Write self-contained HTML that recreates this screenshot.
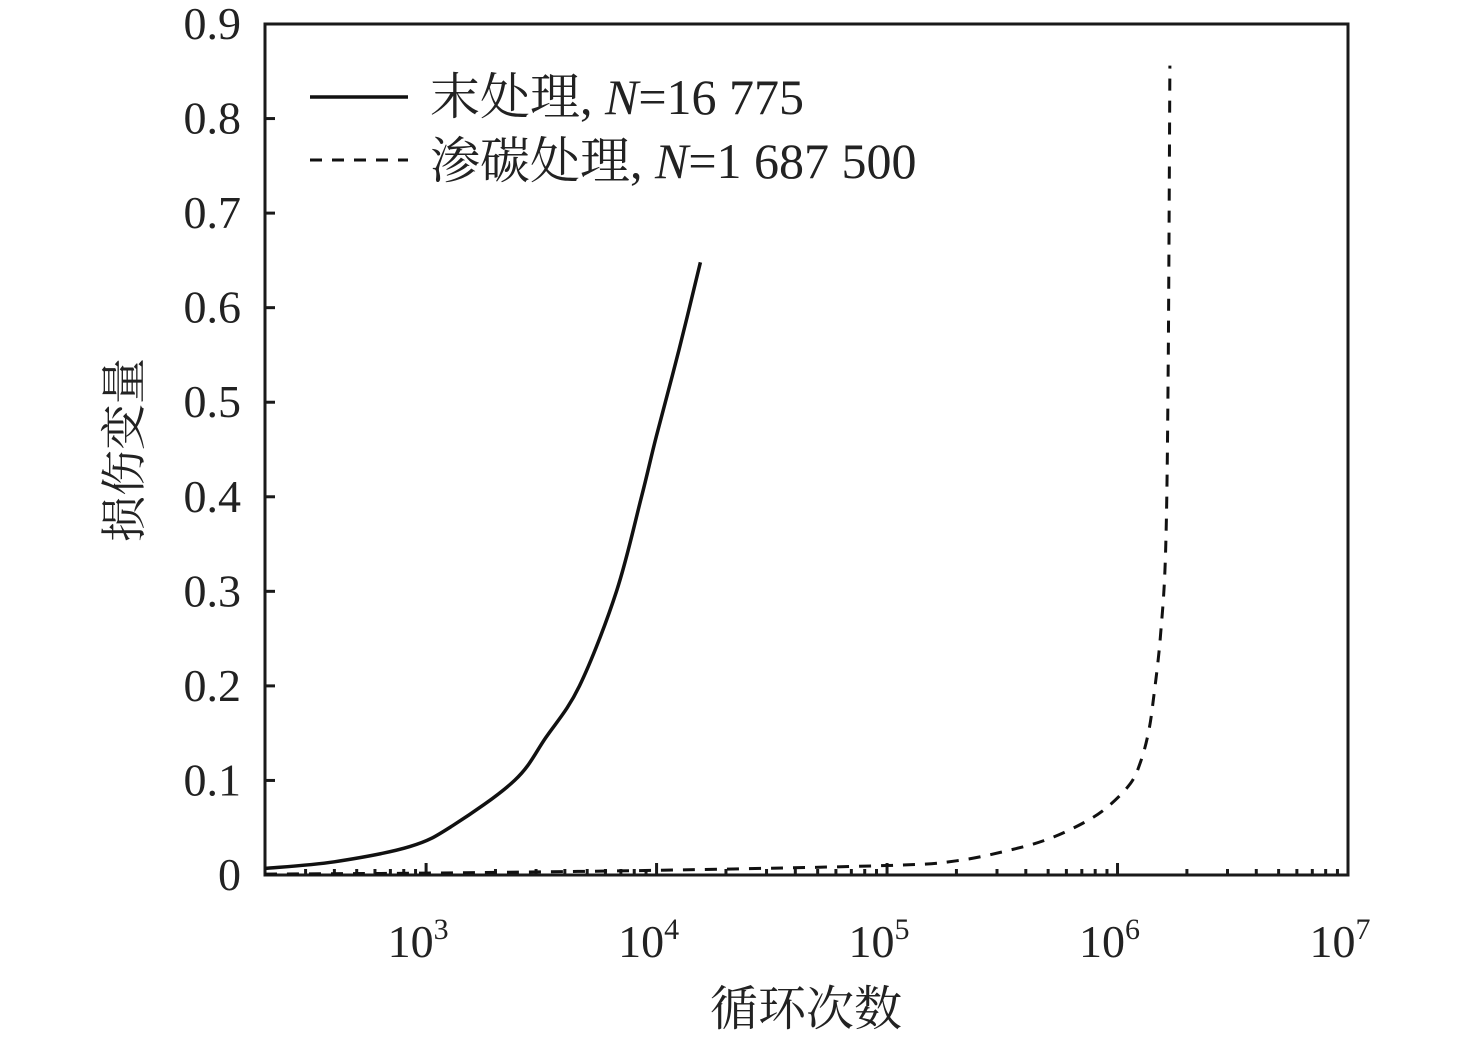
<!DOCTYPE html>
<html><head><meta charset="utf-8"><style>
html,body{margin:0;padding:0;background:#fff;}
svg{display:block;font-family:"Liberation Serif","Noto Serif CJK SC",serif;}
</style></head><body>
<svg id="chart" width="1476" height="1042" viewBox="0 0 1476 1042" xmlns="http://www.w3.org/2000/svg">
<rect x="265" y="24" width="1083" height="851" fill="none" stroke="#1a1a1a" stroke-width="3"/>
<g id="ticks"></g>
<g id="series"></g>
<g>
<line x1="310" y1="97" x2="408" y2="97" stroke="#111" stroke-width="3.5"/>
<text x="430" y="114" font-size="50" fill="#222">末处理, <tspan font-style="italic">N</tspan>=16 775</text>
<line x1="310" y1="160" x2="408" y2="160" stroke="#111" stroke-width="3" stroke-dasharray="12,10"/>
<text x="430" y="178" font-size="50" fill="#222">渗碳处理, <tspan font-style="italic">N</tspan>=1 687 500</text>
</g>
<text transform="translate(140,450) rotate(-90)" text-anchor="middle" font-size="46" fill="#222">损伤变量</text>
<text x="806" y="1025" text-anchor="middle" font-size="48" fill="#222">循环次数</text>
</svg>
<script>
const yTicks=[0,0.1,0.2,0.3,0.4,0.5,0.6,0.7,0.8,0.9];
const yTickLabels=["0","0.1","0.2","0.3","0.4","0.5","0.6","0.7","0.8","0.9"];
const xDecades=[3,4,5,6,7];
const untreatedN=[200,400,850,1300,2420,3300,4630,6700,8600,10000,12500,15500];
const untreatedD=[0.007,0.014,0.03,0.052,0.1,0.145,0.2,0.3,0.4,0.465,0.555,0.648];
const carbN=[200,1000,10000,100000,200000,350000,500000,710000,906000,1140000,1260000,1360000,1430000,1540000,1620000,1660000,1687500];
const carbD=[0.001,0.002,0.005,0.01,0.015,0.027,0.038,0.055,0.072,0.097,0.12,0.15,0.185,0.256,0.35,0.55,0.856];
const X0=265,X1=1348,Y0=875,Y1=24,LMIN=Math.log10(200),LMAX=7;
const NS="http://www.w3.org/2000/svg";
function xs(n){return X0+(Math.log10(n)-LMIN)/(LMAX-LMIN)*(X1-X0);}
function ys(v){return Y0-v/0.9*(Y0-Y1);}
function mk(t,a,p){const e=document.createElementNS(NS,t);for(const k in a)e.setAttribute(k,a[k]);p.appendChild(e);return e;}
const tg=document.getElementById('ticks'),sg=document.getElementById('series');
yTicks.forEach((v,i)=>{
 const l=mk('line',{x1:X0,x2:X0+10,y1:ys(v),y2:ys(v),stroke:'#1a1a1a','stroke-width':3},tg);
 
 
 const t=mk('text',{x:241,y:ys(v)+15,'text-anchor':'end','font-size':46,fill:'#222'},tg);
 t.textContent=yTickLabels[i];
 
 
});
for(let d=2;d<7;d++){for(let m=1;m<10;m++){const n=m*Math.pow(10,d);if(n<200)continue;
 const x=xs(n),len=(m===1)?12:6;
 const l=mk('line',{x1:x,x2:x,y1:Y0,y2:Y0-len,stroke:'#1a1a1a','stroke-width':3},tg);
 
 }}
xDecades.forEach(d=>{
 const t=mk('text',{x:xs(Math.pow(10,d))-8,y:957,'text-anchor':'middle','font-size':46,fill:'#222'},tg);
 t.innerHTML='10<tspan dy="-18" font-size="30">'+d+'</tspan>';
 
 
});
function path(N,D){
 const P=N.map((n,i)=>[xs(n),ys(D[i])]);
 let s='M'+P[0][0].toFixed(1)+','+P[0][1].toFixed(1);
 for(let i=0;i<P.length-1;i++){
  const p0=P[Math.max(0,i-1)],p1=P[i],p2=P[i+1],p3=P[Math.min(P.length-1,i+2)];
  const c1=[p1[0]+(p2[0]-p0[0])/6,p1[1]+(p2[1]-p0[1])/6];
  const c2=[p2[0]-(p3[0]-p1[0])/6,p2[1]-(p3[1]-p1[1])/6];
  s+=' C'+c1.map(v=>v.toFixed(1)).join(',')+' '+c2.map(v=>v.toFixed(1)).join(',')+' '+p2.map(v=>v.toFixed(1)).join(',');
 }
 return s;
}
const p1=mk('path',{d:path(untreatedN,untreatedD),fill:'none',stroke:'#111','stroke-width':3.5,'stroke-linejoin':'round'},sg);


const p2=mk('path',{d:path(carbN,carbD),fill:'none',stroke:'#111','stroke-width':3,'stroke-dasharray':'12,10'},sg);


</script>
</body></html>
